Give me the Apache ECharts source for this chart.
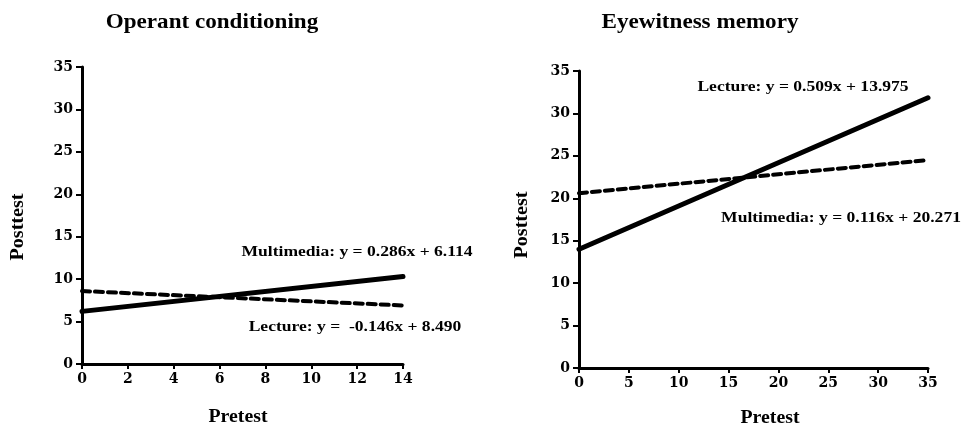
<!DOCTYPE html>
<html><head><meta charset="utf-8">
<script src="https://cdn.jsdelivr.net/npm/echarts@6/dist/echarts.min.js"></script>
<style>html,body{margin:0;padding:0;background:#fff}#c{width:961px;height:427px}</style>
</head><body><div id="c"></div>
<script>
// Panel titles
var titles = ["Operant conditioning", "Eyewitness memory"];
// Left panel: x range and regression line endpoints
var leftX = [0, 14];
var leftMultimedia = [6.2, 10.3];
var leftLecture = [8.6, 6.9];
var leftEqMultimedia = "Multimedia: y = 0.286x + 6.114";
var leftEqLecture = "Lecture: y =  -0.146x + 8.490";
// Right panel
var rightX = [0, 35];
var rightLecture = [14.0, 31.85];
var rightMultimedia = [20.6, 24.5];
var rightEqLecture = "Lecture: y = 0.509x + 13.975";
var rightEqMultimedia = "Multimedia: y = 0.116x + 20.271";
var xName = "Pretest", yName = "Posttest";

var F = "'Liberation Serif', 'DejaVu Serif', serif";
var FT = "'DejaVu Serif', serif";
function pts(xs, ys){ return xs.map(function(x,i){return [x, ys[i]];}); }
function xAxis(idx, max, interval){
  return {type:'value', gridIndex:idx, min:0, max:max, interval:interval,
    axisLine:{show:true, onZero:false, lineStyle:{color:'#000', width:3}},
    axisTick:{show:true, length:5, lineStyle:{color:'#000', width:2}},
    axisLabel:{color:'#000', fontFamily:FT, fontWeight:'bold', fontSize:14, margin:8},
    splitLine:{show:false}};
}
function yAxis(idx){
  return {type:'value', gridIndex:idx, min:0, max:35, interval:5,
    axisLine:{show:true, onZero:false, lineStyle:{color:'#000', width:3}},
    axisTick:{show:true, length:6, lineStyle:{color:'#000', width:2}},
    axisLabel:{color:'#000', fontFamily:FT, fontWeight:'bold', fontSize:14, margin:9},
    splitLine:{show:false}};
}
function line(xi, data, dashed){
  return {type:'line', xAxisIndex:xi, yAxisIndex:xi, data:data, symbol:'none', silent:true,
    lineStyle:{color:'#000', width: dashed?4:5, type: dashed?[8,5]:'solid', cap:'round'}};
}
function txt(x, y, s, size, sx, rot){
  var o = {type:'text', x:x, y:y, scaleX:sx, scaleY:1,
    style:{text:s, fill:'#000', font:'bold '+size+'px '+F, textAlign:'center', textVerticalAlign:'middle'}};
  if (rot) { o.rotation = Math.PI/2; }
  return o;
}
var chart = echarts.init(document.getElementById('c'));
chart.setOption({
  animation:false,
  grid:[{left:82, top:67, width:321, height:297},
        {left:579, top:71, width:349, height:297}],
  xAxis:[xAxis(0,14,2), xAxis(1,35,5)],
  yAxis:[yAxis(0), yAxis(1)],
  series:[
    line(0, pts(leftX, leftMultimedia), false),
    line(0, pts(leftX, leftLecture), true),
    line(1, pts(rightX, rightLecture), false),
    line(1, pts(rightX, rightMultimedia), true)
  ],
  graphic:[
    txt(212, 22, titles[0], 22, 1.05),
    txt(700, 22, titles[1], 22, 1.05),
    txt(238, 417, xName, 18, 1.1),
    txt(770, 418, xName, 18, 1.1),
    txt(18, 227, yName, 18, 1.12, true),
    txt(522, 225, yName, 18, 1.12, true),
    txt(357, 252, leftEqMultimedia, 15, 1.17),
    txt(355, 327, leftEqLecture, 15, 1.17),
    txt(803, 87, rightEqLecture, 15, 1.17),
    txt(841, 218, rightEqMultimedia, 15, 1.17)
  ]
});
</script></body></html>
